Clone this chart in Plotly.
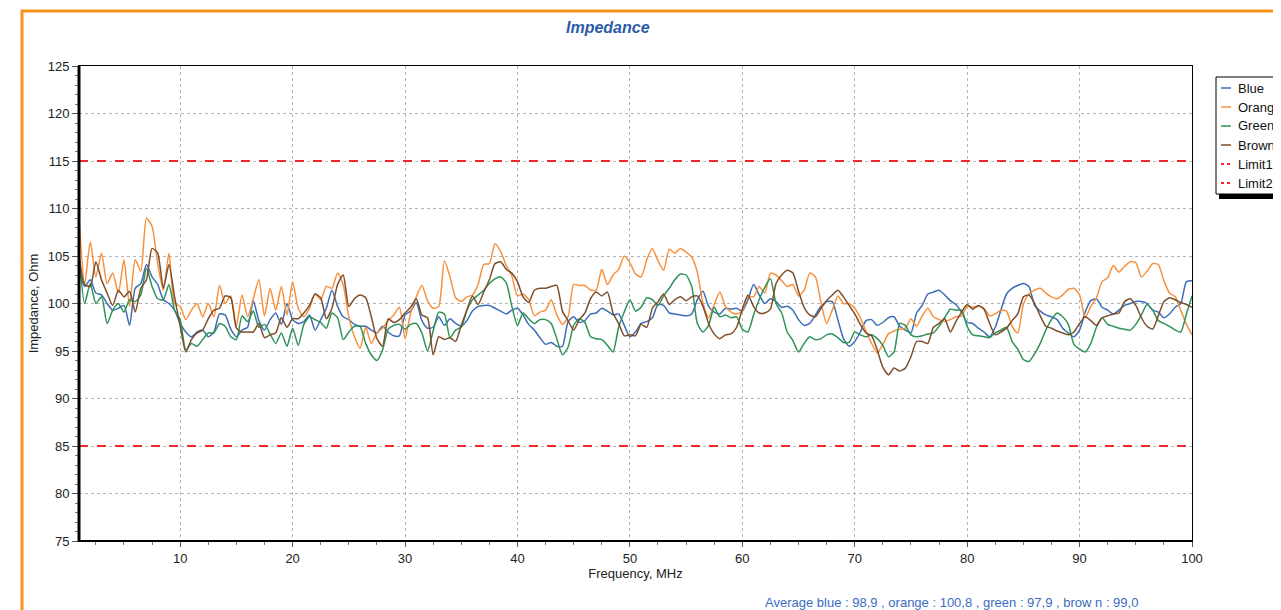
import plotly.graph_objects as go

# Frequency grid (MHz), sampled every 0.5 MHz from 1 to 100
freq = [1 + 0.5 * i for i in range(199)]

blue = [
    103.5, 101.8, 102.5, 101.1, 100.9, 100.0, 99.3, 99.5, 99.8, 97.7,
    101.6, 102.1, 104.1, 102.8, 102.0, 100.4, 100.0, 99.3, 97.9, 97.0,
    96.5, 97.0, 97.2, 96.5, 97.0, 98.9, 98.8, 97.3, 96.5, 97.2,
    97.5, 100.3, 98.2, 97.2, 98.3, 99.0, 97.8, 100.0, 98.3, 97.9,
    98.1, 98.8, 97.2, 98.3, 99.5, 101.4, 99.7, 98.6, 98.3, 97.8,
    97.6, 97.6, 97.2, 96.9, 97.6, 97.0, 96.6, 96.6, 98.8, 99.2,
    100.1, 98.2, 97.4, 97.5, 98.6, 97.7, 98.4, 97.9, 97.6, 98.2,
    99.2, 99.7, 99.8, 99.8, 99.5, 99.2, 98.9, 99.3, 99.5, 98.8,
    97.8, 97.2, 96.4, 95.7, 95.9, 95.5, 95.5, 98.1, 98.6, 98.0,
    98.2, 98.9, 99.0, 99.5, 99.2, 98.8, 98.9, 97.7, 96.5, 97.0,
    97.9, 98.1, 98.5, 99.9, 99.8, 99.0, 98.9, 98.8, 98.7, 98.9,
    100.4, 101.3, 99.7, 99.1, 98.9, 99.5, 99.4, 99.5, 99.2, 100.4,
    102.0, 100.9, 100.0, 100.5, 100.2, 99.6, 99.7, 99.3, 98.3, 97.7,
    97.9, 98.8, 99.7, 100.2, 100.2, 98.3, 96.3, 95.5, 96.0, 97.0,
    98.2, 98.3, 97.7, 98.0, 98.5, 98.6, 97.6, 97.2, 96.9, 99.0,
    99.8, 101.0, 101.2, 101.4, 100.9, 100.3, 99.9, 99.1, 98.0, 97.9,
    97.4, 97.0, 96.5, 97.5, 99.3, 101.0, 101.6, 101.9, 102.1, 101.8,
    99.8, 99.2, 98.8, 98.6, 98.3, 97.4, 96.9, 96.5, 97.2, 99.1,
    100.3, 100.5, 99.6, 99.3, 98.9, 99.3, 99.8, 100.0, 100.2, 100.2,
    100.0, 99.3, 99.1, 98.5, 98.9, 99.6, 100.0, 102.3, 102.4,
]

orange = [
    109.0, 102.0, 106.5, 102.8, 105.3, 102.1, 103.2, 101.1, 104.6, 99.7,
    104.6, 103.4, 109.0, 108.1, 104.2, 101.4, 105.3, 100.0, 99.7, 98.3,
    99.3, 100.0, 98.6, 100.0, 98.6, 101.9, 100.0, 100.8, 97.6, 100.9,
    98.6, 100.5, 102.5, 98.7, 101.6, 99.3, 101.8, 98.8, 102.3, 99.5,
    98.6, 99.5, 101.0, 100.4, 101.8, 101.6, 103.2, 102.0, 98.6, 96.5,
    95.3, 97.5, 95.8, 96.9, 97.4, 98.2, 98.8, 99.6, 96.3, 99.0,
    100.7, 101.9, 100.3, 99.5, 99.7, 104.5, 102.8, 100.6, 100.2, 100.7,
    100.9, 102.0, 104.1, 104.2, 106.3, 105.5, 104.0, 102.9, 100.8, 101.0,
    100.4, 98.7, 99.1, 99.3, 100.4, 98.8, 97.8, 98.6, 102.0, 101.9,
    101.9, 101.4, 101.4, 103.6, 102.0, 103.0, 103.6, 105.0, 104.3, 103.1,
    102.8, 104.6, 105.8, 104.5, 103.5, 105.7, 105.3, 105.8, 105.4, 104.9,
    103.3, 100.0, 98.5, 99.9, 101.2, 99.7, 99.1, 98.9, 99.2, 100.8,
    100.7, 101.8, 101.1, 103.2, 103.0, 102.4, 101.8, 102.0, 100.8, 101.4,
    103.2, 102.8, 100.1, 97.9, 99.3, 100.8, 100.0, 100.0, 99.5, 98.5,
    97.1, 95.8, 94.8, 95.7, 96.8, 97.1, 97.3, 97.4, 98.4, 97.6,
    98.7, 99.5, 98.6, 98.3, 98.1, 98.3, 98.6, 98.7, 99.7, 99.6,
    99.7, 99.5, 98.7, 98.9, 99.3, 99.2, 97.6, 96.9, 99.9, 101.0,
    101.4, 101.6, 101.1, 100.7, 100.5, 100.9, 101.5, 101.6, 100.9, 98.5,
    99.7, 100.6, 102.3, 102.7, 104.0, 103.3, 103.9, 104.4, 104.3, 102.8,
    103.4, 104.2, 104.1, 102.4, 101.1, 100.7, 99.3, 97.8, 96.7,
]

green = [
    105.1, 100.0, 102.1, 100.0, 100.7, 97.9, 99.3, 100.0, 99.1, 100.4,
    100.2, 100.9, 103.7, 101.8, 100.5, 100.4, 102.0, 99.3, 98.3, 95.1,
    95.8, 95.5, 96.2, 96.9, 96.9, 97.9, 97.6, 96.5, 96.2, 98.7,
    98.1, 99.2, 97.5, 97.8, 96.8, 95.8, 96.9, 95.5, 97.4, 95.6,
    97.8, 98.6, 98.3, 98.0, 97.4, 99.0, 98.5, 96.2, 97.0, 97.6,
    97.6, 95.8, 94.6, 94.0, 95.1, 97.3, 97.7, 97.8, 97.3, 97.8,
    97.9, 96.9, 95.0, 97.1, 99.1, 98.9, 96.4, 97.2, 97.5, 99.3,
    100.4, 100.9, 101.4, 102.1, 102.6, 102.8, 102.2, 99.7, 97.7, 99.0,
    98.4, 97.9, 98.3, 98.3, 97.9, 96.3, 94.6, 95.4, 97.7, 98.4,
    98.0, 96.5, 96.3, 96.2, 95.6, 94.9, 97.5, 99.1, 100.4, 99.2,
    99.6, 100.6, 100.4, 99.8, 100.8, 101.6, 102.5, 103.1, 103.0, 101.8,
    97.9, 97.0, 97.7, 99.6, 98.6, 98.8, 98.5, 98.6, 97.3, 97.0,
    98.8, 100.4, 101.7, 102.6, 100.0, 99.0, 97.0, 96.1, 94.9, 95.8,
    96.5, 96.2, 96.3, 96.7, 96.8, 96.4, 95.9, 95.9, 97.0, 96.7,
    96.5, 96.7, 96.3, 95.6, 94.4, 94.9, 97.9, 97.7, 96.7, 96.5,
    96.6, 96.8, 96.9, 97.6, 98.5, 99.4, 99.3, 99.3, 97.6, 96.7,
    96.6, 96.5, 96.4, 96.9, 97.2, 97.5, 96.0, 95.2, 94.1, 93.9,
    94.7, 95.8, 97.2, 98.3, 99.0, 98.6, 97.8, 95.7, 95.2, 94.9,
    95.8, 97.5, 98.5, 97.8, 97.6, 97.4, 97.3, 97.2, 97.8, 98.8,
    99.9, 99.3, 98.2, 97.9, 97.6, 97.2, 97.0, 98.9, 100.8,
]

brown = [
    105.1, 102.0, 101.8, 104.4, 102.5, 101.1, 99.8, 101.4, 100.7, 101.3,
    99.1, 101.6, 102.5, 105.8, 105.3, 101.6, 104.1, 100.7, 97.6, 94.9,
    96.2, 96.9, 97.2, 98.4, 99.3, 99.5, 100.8, 100.6, 97.4, 97.0,
    97.0, 97.0, 97.9, 96.4, 96.7, 96.9, 98.5, 97.5, 98.4, 98.4,
    99.0, 99.8, 101.0, 100.6, 98.4, 99.5, 102.0, 103.0, 99.7, 100.5,
    100.9, 100.6, 98.6, 96.3, 95.5, 98.4, 98.0, 98.3, 99.0, 99.6,
    100.5, 98.8, 98.5, 94.6, 96.5, 96.2, 96.4, 96.0, 97.7, 99.3,
    100.8, 99.9, 101.2, 102.5, 104.2, 104.4, 103.6, 103.2, 102.3, 100.7,
    100.1, 101.4, 101.6, 101.6, 101.8, 101.9, 99.2, 98.2, 97.2, 98.3,
    99.0, 100.5, 101.2, 100.8, 101.2, 99.0, 97.9, 96.6, 96.7, 96.6,
    97.8, 97.5, 99.5, 100.2, 101.0, 99.9, 100.4, 100.7, 100.3, 100.7,
    100.8, 99.7, 97.9, 96.8, 96.3, 96.7, 96.8, 97.5, 99.4, 100.9,
    99.7, 99.0, 99.0, 99.4, 102.1, 103.0, 103.5, 103.2, 101.3, 99.6,
    98.8, 98.6, 99.5, 100.3, 100.9, 101.4, 100.7, 99.8, 98.9, 97.8,
    96.9, 96.6, 95.1, 93.3, 92.5, 93.2, 92.9, 93.2, 94.4, 96.0,
    96.0, 95.8, 97.5, 97.9, 98.4, 97.0, 98.1, 99.1, 99.9, 99.4,
    99.8, 99.4, 97.9, 96.7, 97.0, 97.4, 98.2, 98.9, 100.7, 100.9,
    100.0, 98.7, 97.6, 97.4, 97.1, 96.9, 96.7, 97.0, 97.9, 98.6,
    98.2, 97.7, 98.5, 98.7, 98.9, 99.0, 100.2, 100.5, 99.8, 98.5,
    97.6, 97.3, 98.7, 100.2, 100.6, 100.4, 100.1, 99.9, 99.6,
]

limit_x = [1, 100]
limit1 = [115, 115]
limit2 = [85, 85]

series_names = ["Blue", "Orange", "Green", "Brown"]
series_colors = ["#3B6DB8", "#F7913D", "#2E9357", "#7E4E2B"]
limit_names = ["Limit1", "Limit2"]
limit_color = "#F02A2A"
averages_text = "Average blue : 98,9 , orange : 100,8 , green : 97,9 , brow n : 99,0"

# The page body has an 8 px margin; positions below are window pixels.
OFF = 8
W, H = 1281, 610 - OFF
PX0, PX1, PY0, PY1 = 79, 1192, 66, 541   # plot area in window pixels
L, R = PX0 - OFF, W - (PX1 - OFF)
T, B = PY0 - OFF, H - (PY1 - OFF)
PW, PH = W - L - R, H - T - B


def px_x(p):
    return (p - OFF - L) / PW


def px_y(p):
    return (H - B - (p - OFF)) / PH


fig = go.Figure()
for name, vals, col in zip(series_names, [blue, orange, green, brown], series_colors):
    fig.add_trace(go.Scatter(
        x=freq, y=vals, mode="lines", name=name, showlegend=False,
        line=dict(color=col, width=1.5, shape="spline", smoothing=0.6),
    ))
for name, vals in zip(limit_names, [limit1, limit2]):
    fig.add_trace(go.Scatter(
        x=limit_x, y=vals, mode="lines", name=name, showlegend=False,
        line=dict(color=limit_color, width=2, dash="dash"),
    ))

shapes = [
    # orange frame around the chart
    dict(type="rect", xref="paper", yref="paper",
         x0=px_x(22), x1=px_x(1330), y0=px_y(660), y1=px_y(11),
         line=dict(color="#F7941D", width=3), fillcolor="rgba(0,0,0,0)",
         layer="below"),
    # thick left axis
    dict(type="line", xref="paper", yref="paper", x0=0, x1=0, y0=0, y1=1,
         line=dict(color="black", width=3)),
    # bottom axis
    dict(type="line", xref="paper", yref="paper", x0=0, x1=1, y0=0, y1=0,
         line=dict(color="black", width=2)),
    # legend shadow
    dict(type="rect", xref="paper", yref="paper",
         x0=px_x(1219), x1=px_x(1330), y0=px_y(199), y1=px_y(193),
         line=dict(width=0), fillcolor="black"),
    # legend box
    dict(type="rect", xref="paper", yref="paper",
         x0=px_x(1216), x1=px_x(1330), y0=px_y(194), y1=px_y(77),
         line=dict(color="black", width=1), fillcolor="white"),
]

annotations = [
    dict(text="<b><i>Impedance</i></b>", xref="paper", yref="paper",
         x=px_x(608), y=px_y(27), xanchor="center", yanchor="middle",
         showarrow=False, font=dict(size=16, color="#2D5CA8")),
    dict(text=averages_text, xref="paper", yref="paper",
         x=px_x(763), y=px_y(602), xanchor="left", yanchor="middle",
         showarrow=False, font=dict(size=13, color="#3A6CC0")),
]

# custom compact legend (short line samples like the original)
legend_names = series_names + limit_names
legend_colors = series_colors + [limit_color, limit_color]
for i, (nm, col) in enumerate(zip(legend_names, legend_colors)):
    yy = 88 + 19 * i
    is_limit = nm in limit_names
    shapes.append(dict(
        type="line", xref="paper", yref="paper",
        x0=px_x(1221), x1=px_x(1231), y0=px_y(yy), y1=px_y(yy),
        line=dict(color=col, width=2 if is_limit else 1.5,
                  dash="dot" if is_limit else "solid")))
    annotations.append(dict(
        text=nm, xref="paper", yref="paper", x=px_x(1236), y=px_y(yy),
        xanchor="left", yanchor="middle", showarrow=False,
        font=dict(size=13, color="#111111")))

fig.update_layout(
    width=W, height=H,
    margin=dict(l=L, r=R, t=T, b=B, autoexpand=False),
    paper_bgcolor="white", plot_bgcolor="white",
    font=dict(family="Liberation Sans, Arial, sans-serif", size=13, color="#222222"),
    showlegend=False,
    xaxis=dict(
        range=[1, 100], tick0=0, dtick=10, ticks="outside", ticklen=5,
        tickcolor="#555555", showline=True, linecolor="black", linewidth=1,
        mirror=True, showgrid=True, gridcolor="#B5B5B5", griddash="dot",
        gridwidth=1, zeroline=False,
        minor=dict(dtick=2.5, tick0=0, ticks="outside", ticklen=3,
                   tickcolor="#777777", showgrid=False),
        title=dict(text="Frequency, MHz", font=dict(size=13), standoff=4),
        tickfont=dict(size=13),
    ),
    yaxis=dict(
        range=[75, 125], tick0=75, dtick=5, ticks="outside", ticklen=6,
        tickcolor="#555555", showline=True, linecolor="black", linewidth=1,
        mirror=True, showgrid=True, gridcolor="#B5B5B5", griddash="dot",
        gridwidth=1, zeroline=False,
        minor=dict(dtick=1, ticks="outside", ticklen=3,
                   tickcolor="#777777", showgrid=False),
        title=dict(text="Impedance, Ohm", font=dict(size=13), standoff=6),
        tickfont=dict(size=13),
    ),
    shapes=shapes,
    annotations=annotations,
)

fig.write_html("out.html")
